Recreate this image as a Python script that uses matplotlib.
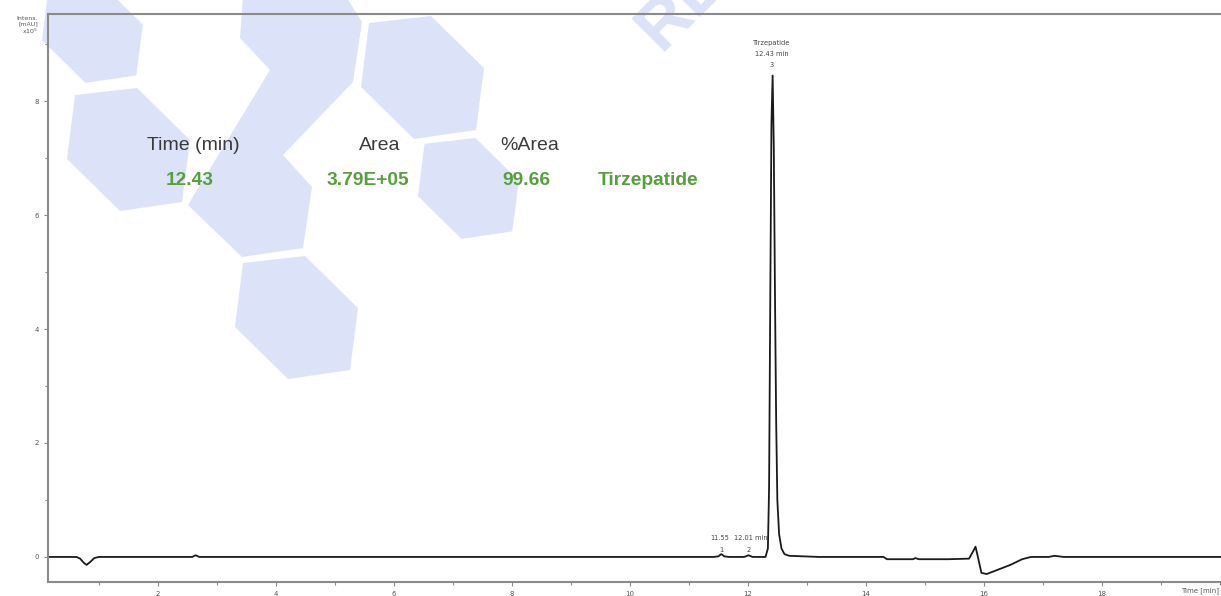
import matplotlib.pyplot as plt
import numpy as np
from matplotlib.patches import Polygon
from matplotlib.ticker import MultipleLocator

# chromatogram trace (time in min, intensity in mAU x10^5)
time = [0.14, 0.62, 0.68, 0.74, 0.79, 0.85, 0.92, 1.0, 2.58, 2.64, 2.70,
        11.42, 11.50, 11.55, 11.60, 11.68, 11.94, 12.01, 12.08,
        12.30, 12.34, 12.36, 12.38, 12.40, 12.42, 12.44, 12.46, 12.48, 12.50,
        12.53, 12.57, 12.62, 12.70, 13.2, 14.30, 14.36, 14.80, 14.84, 14.90,
        15.40, 15.75, 15.82, 15.86, 15.90, 15.96, 16.05, 16.25, 16.45, 16.65,
        16.80, 17.10, 17.20, 17.35, 20.1]
intensity = [0.0, 0.0, -0.03, -0.10, -0.14, -0.09, -0.02, 0.0, 0.0, 0.03, 0.0,
             0.0, 0.01, 0.05, 0.01, 0.0, 0.0, 0.03, 0.0,
             0.0, 0.15, 1.2, 4.5, 7.6, 8.45, 7.2, 4.6, 2.4, 1.0,
             0.4, 0.15, 0.05, 0.02, 0.0, 0.0, -0.04, -0.04, -0.02, -0.04,
             -0.04, -0.03, 0.10, 0.18, 0.0, -0.28, -0.30, -0.22, -0.14, -0.04,
             0.0, 0.0, 0.02, 0.0, 0.0]

# peak table
table_headers = ["Time (min)", "Area", "%Area"]
table_values = ["12.43", "3.79E+05", "99.66", "Tirzepatide"]
main_peak = ("Tirzepatide", 12.43, "3")
minor_peaks = [(11.55, "1"), (12.01, "2")]

W, H = 1221, 596


def px(x, y):
    return x / W, 1 - y / H


fig = plt.figure(figsize=(W / 100, H / 100), dpi=100)
ax = fig.add_axes([48 / W, 1 - 582 / H, (W - 48) / W + 0.01, (582 - 14) / H])
ax.set_facecolor('none')

# watermark shapes behind the plot
hex_color = '#dce3f8'
hex_shape = np.array([(-53, -54), (9, -61), (62, -9), (54, 53), (-8, 62), (-61, 10)])
hexes = [((92, 32), 0.82), ((128, 149), 1.0), ((422, 77), 1.0),
         ((468, 188), 0.82), ((296, 317), 1.0)]
for (cx, cy), s in hexes:
    pts = [px(cx + s * dx, cy + s * dy) for dx, dy in hex_shape]
    fig.patches.append(Polygon(pts, closed=True, transform=fig.transFigure,
                               facecolor=hex_color, edgecolor='none', zorder=-5))
# the joined pair in the middle
joined = [(243, -5), (345, -5), (362, 22), (353, 82), (283, 155), (312, 187),
          (303, 248), (242, 257), (188, 205), (270, 70), (240, 38)]
fig.patches.append(Polygon([px(x, y) for x, y in joined], closed=True,
                           transform=fig.transFigure, facecolor=hex_color,
                           edgecolor='none', zorder=-5))
fig.text(*px(660, 52), "RE", rotation=45, rotation_mode='anchor', fontsize=50,
         color=hex_color, ha='left', va='baseline', fontweight='bold',
         family='Liberation Sans', zorder=-5)

ax.plot(time, intensity, color='#1a1a1a', lw=1.3)

ax.set_xlim(0.136, 20.02 + 0.01 * W / (W - 48) * 20)
ax.set_ylim(-0.44, 9.53)
ax.xaxis.set_minor_locator(MultipleLocator(1))
ax.yaxis.set_major_locator(MultipleLocator(2))
ax.yaxis.set_minor_locator(MultipleLocator(1))
ax.set_xticks([2, 4, 6, 8, 10, 12, 14, 16, 18])
ax.tick_params(which='both', direction='out', colors='#888888', labelcolor='#555555',
               labelsize=5, width=0.8)
ax.tick_params(which='major', length=3)
ax.tick_params(which='minor', length=2)
for side in ['left', 'bottom', 'top']:
    ax.spines[side].set_color('#8a8a8a')
    ax.spines[side].set_linewidth(1.5)
ax.spines['right'].set_visible(False)

# peak labels
lab_kw = dict(fontsize=4.8, ha='center', color='#444444')
ax.text(main_peak[1] - 0.02, 8.98, main_peak[0], **lab_kw)
ax.text(main_peak[1] - 0.02, 8.79, f"{main_peak[1]:.2f} min", **lab_kw)
ax.text(main_peak[1] - 0.02, 8.60, main_peak[2], **lab_kw)
ax.text(minor_peaks[0][0] - 0.18, 0.30, f"{minor_peaks[0][0]:.2f}",
        fontsize=4.8, ha='left', color='#444444')
ax.text(minor_peaks[1][0] - 0.24, 0.30, f"{minor_peaks[1][0]:.2f} min",
        fontsize=4.8, ha='left', color='#444444')
for t, lab in minor_peaks:
    ax.text(t, 0.09, lab, **lab_kw)

# axis captions
fig.text(*px(38, 26), "Intens.\n[mAU]\nx10$^5$", fontsize=4.5, ha='right', va='center',
         color='#555555', linespacing=1.1)
fig.text(*px(1219, 591), "Time [min]", fontsize=5, ha='right', va='center', color='#555555')

# peak table overlay
for x, lab in zip([193, 380, 530], table_headers):
    fig.text(*px(x, 146), lab, fontsize=14, ha='center', va='center', color='#3a3a3a',
             family='Liberation Sans')
for x, lab in zip([190, 368, 526, 648], table_values):
    fig.text(*px(x, 181), lab, fontsize=13.8, ha='center', va='center', color='#56a03c',
             fontweight='bold', family='Liberation Sans')

fig.savefig("out.png", dpi=100)
